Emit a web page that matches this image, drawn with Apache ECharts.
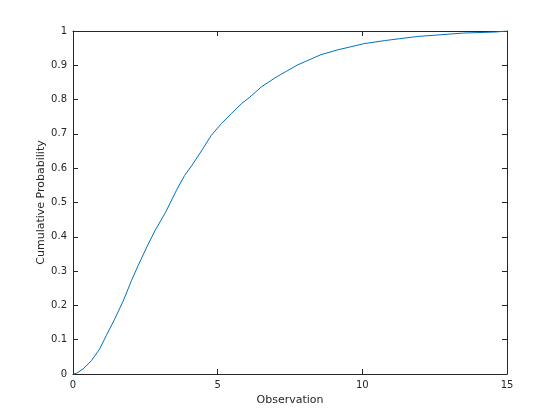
<!DOCTYPE html>
<html>
<head>
<meta charset="utf-8">
<script src="https://cdn.jsdelivr.net/npm/echarts@6/dist/echarts.min.js"></script>
<style>
  html, body { margin: 0; padding: 0; background: #fff; }
  #main { width: 560px; height: 420px; }
</style>
</head>
<body>
<div id="main"></div>
<script>
// observation values
var obsX = [0, 0.12, 0.35, 0.64, 0.92, 1.15, 1.44, 1.73, 2.02, 2.25, 2.55, 2.84, 3.19, 3.59, 3.86,
  4.15, 4.49, 4.78, 5.13, 5.47, 5.82, 6.11, 6.51, 7.03, 7.76, 8.57, 9.15, 10.05, 10.77, 11.9,
  13.5, 14.6, 15];
// cumulative probability at each observation
var cumP = [0, 0.002, 0.015, 0.039, 0.073, 0.112, 0.16, 0.212, 0.272, 0.316, 0.37, 0.419, 0.47, 0.538, 0.579,
  0.613, 0.657, 0.696, 0.73, 0.759, 0.788, 0.807, 0.837, 0.866, 0.901, 0.931, 0.945, 0.963, 0.972, 0.984,
  0.994, 0.997, 1.0];

var axisColor = '#262626';
var font = 'DejaVu Sans';

var chart = echarts.init(document.getElementById('main'));

function boxAxis(pos, showLabels, name) {
  return {
    type: 'value',
    position: pos,
    name: name,
    nameLocation: 'middle',
    nameMoveOverlap: false,
    nameTextStyle: { color: axisColor, fontFamily: font, fontSize: 11 },
    axisLine: { show: true, onZero: false, lineStyle: { color: axisColor, width: 1 } },
    axisTick: { show: true, inside: true, length: 5, lineStyle: { color: axisColor } },
    axisLabel: { show: showLabels, color: axisColor, fontFamily: font, fontSize: 10 },
    splitLine: { show: false }
  };
}

var xBottom = boxAxis('bottom', true, 'Observation');
xBottom.min = 0; xBottom.max = 15; xBottom.interval = 5;
xBottom.nameGap = 21;
xBottom.axisLabel.margin = 6;
var xTop = boxAxis('top', false, '');
xTop.min = 0; xTop.max = 15; xTop.interval = 5;

var yLeft = boxAxis('left', true, 'Cumulative Probability');
yLeft.min = 0; yLeft.max = 1; yLeft.interval = 0.1;
yLeft.nameGap = 26;
yLeft.axisLabel.margin = 6;
var yRight = boxAxis('right', false, '');
yRight.min = 0; yRight.max = 1; yRight.interval = 0.1;

var option = {
  animation: false,
  backgroundColor: '#fff',
  grid: { left: 73, right: 53, top: 31, bottom: 46, containLabel: false },
  xAxis: [xBottom, xTop],
  yAxis: [yLeft, yRight],
  series: [
    {
      type: 'line',
      xAxisIndex: 0,
      yAxisIndex: 0,
      data: obsX.map(function (x, i) { return [x, cumP[i]]; }),
      showSymbol: false,
      smooth: false,
      lineStyle: { color: '#0072BD', width: 1 }
    }
  ]
};
chart.setOption(option);
</script>
</body>
</html>
